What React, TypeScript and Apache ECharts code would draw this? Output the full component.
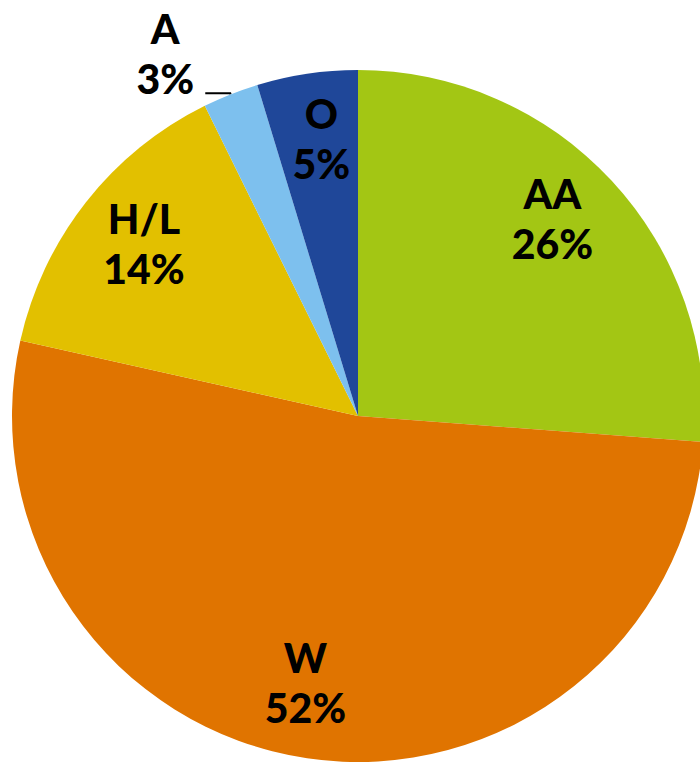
import React, { useEffect, useRef } from "react";
import * as echarts from "echarts";

const categories = ["AA", "W", "H/L", "A", "O"];
const values = [26.2, 52.3, 14.2, 2.6, 4.7];
const colors = ["#A3C614", "#E07400", "#E2C000", "#7DC0EE", "#1F4799"];
const outsideLabelCategories = ["A"];

const FONT = "Lato, 'DejaVu Sans', sans-serif";

// small nudges for inside labels (style only)
const labelNudge: Record<string, [number, number]> = {
  AA: [-8, -10],
  W: [-12, -6],
  "H/L": [3, -2],
  O: [4, -5],
};

export default function App() {
  const ref = useRef<HTMLDivElement>(null);

  useEffect(() => {
    document.body.style.margin = "0";
    if (!ref.current) return;
    const chart = echarts.init(ref.current, null, { renderer: "svg" });

    const center = [358, 416];
    const R = 346;

    const visibleData = categories.map((name, i) => {
      const outside = outsideLabelCategories.includes(name);
      return {
        name,
        value: values[i],
        itemStyle: { color: colors[i] },
        label: outside
          ? {
              show: true,
              position: "outside",
              formatter: "{t|{b}}\n{t|{d}%}",
              padding: [0, 4, 80, 0],
              rich: {
                t: {
                  fontFamily: FONT,
                  fontWeight: 900,
                  fontSize: 41,
                  lineHeight: 50,
                  color: "#000",
                  width: 62,
                  align: "center",
                },
              },
            }
          : { show: false },
        labelLine: outside
          ? {
              show: true,
              length: 1,
              length2: 25,
              smooth: false,
              lineStyle: { color: "#000", width: 2 },
            }
          : { show: false },
      };
    });

    const labelData = categories.map((name, i) => {
      const outside = outsideLabelCategories.includes(name);
      return {
        name,
        value: values[i],
        label: { show: !outside },
      };
    });

    chart.setOption({
      animation: false,
      backgroundColor: "#ffffff",
      series: [
        {
          type: "pie",
          center,
          radius: [0, R],
          startAngle: 90,
          clockwise: true,
          percentPrecision: 0,
          avoidLabelOverlap: false,
          itemStyle: { borderWidth: 0 },
          emphasis: { disabled: true },
          data: visibleData,
        },
        {
          type: "pie",
          center,
          radius: [200, R],
          startAngle: 90,
          clockwise: true,
          silent: true,
          percentPrecision: 0,
          avoidLabelOverlap: false,
          itemStyle: { color: "transparent", borderWidth: 0 },
          emphasis: { disabled: true },
          labelLine: { show: false },
          label: {
            position: "inside",
            formatter: "{b}\n{d}%",
            fontFamily: FONT,
            fontWeight: 900,
            fontSize: 41,
            lineHeight: 50,
            color: "#000",
          },
          labelLayout: (params: any) => {
            const name = categories[params.dataIndex];
            const n = labelNudge[name];
            return n ? { dx: n[0], dy: n[1] } : {};
          },
          data: labelData,
        },
      ],
    });

    return () => chart.dispose();
  }, []);

  return (
    <div
      ref={ref}
      style={{ position: "absolute", left: 0, top: 0, width: 700, height: 763 }}
    />
  );
}
